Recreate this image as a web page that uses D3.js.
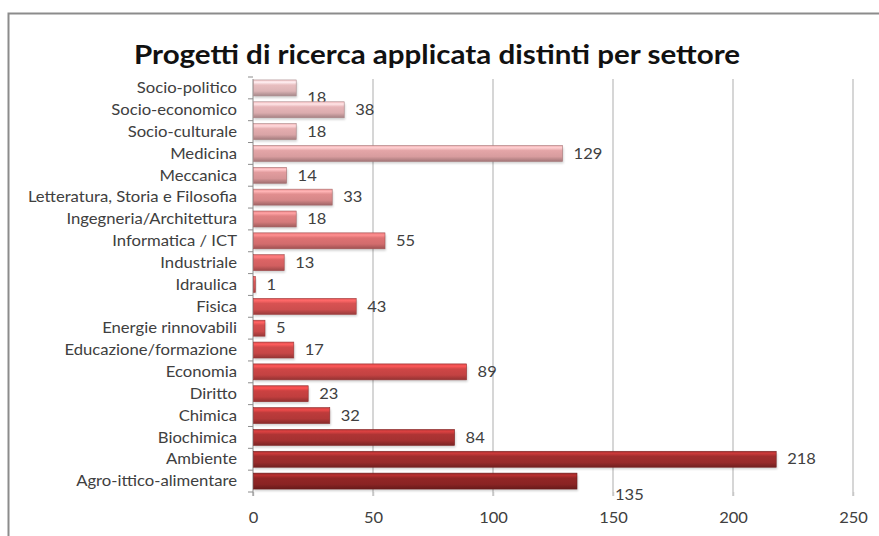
<!DOCTYPE html>
<html>
<head>
<meta charset="utf-8">
<script src="https://cdn.jsdelivr.net/npm/d3@7"></script>
<style>
  body { margin: 0; background: #fff; }
  svg { display: block; font-family: Lato, "Open Sans", sans-serif; }
  .cat-label, .val-label, .x-label { fill: #404040; font-size: 15px; }
</style>
</head>
<body>
<svg id="chart" width="879" height="536"></svg>
<script>
// Chart data, top to bottom as drawn
var categories = ["Socio-politico", "Socio-economico", "Socio-culturale", "Medicina",
  "Meccanica", "Letteratura, Storia e Filosofia", "Ingegneria/Architettura",
  "Informatica / ICT", "Industriale", "Idraulica", "Fisica", "Energie rinnovabili",
  "Educazione/formazione", "Economia", "Diritto", "Chimica", "Biochimica",
  "Ambiente", "Agro-ittico-alimentare"];
var values = [18, 38, 18, 129, 14, 33, 18, 55, 13, 1, 43, 5, 17, 89, 23, 32, 84, 218, 135];
var xTicks = [0, 50, 100, 150, 200, 250];
var title = "Progetti di ricerca applicata distinti per settore";

// The original text looks horizontally stretched, so widen glyphs a bit
function stretch(sel, k) {
  sel.each(function() {
    var len = this.getComputedTextLength();
    d3.select(this)
      .attr("textLength", len * k)
      .attr("lengthAdjust", "spacingAndGlyphs");
  });
}

function drawChart() {
  var svg = d3.select("#chart");
  var plotLeft = 253, plotRight = 853, plotTop = 77, plotBottom = 492;

  // Outer chart frame (runs off the page on the right and bottom)
  svg.append("rect")
    .attr("x", 8.5)
    .attr("y", 13.5)
    .attr("width", 900)
    .attr("height", 600)
    .attr("fill", "none")
    .attr("stroke", "#8c8c8c")
    .attr("stroke-width", 2);

  svg.append("text")
    .attr("x", 437)
    .attr("y", 64)
    .attr("text-anchor", "middle")
    .attr("font-size", 26)
    .attr("font-weight", "bold")
    .attr("fill", "#111")
    .attr("textLength", 606)
    .attr("lengthAdjust", "spacingAndGlyphs")
    .text(title);

  var x = d3.scaleLinear().domain([0, 250]).range([plotLeft, plotRight]);
  var y = d3.scaleBand().domain(categories).range([plotTop, plotBottom])
    .paddingInner(0.27).paddingOuter(0.135);

  // Colour runs from pale pink at the top to dark red at the bottom
  var color = d3.scaleLinear()
    .domain([0, 4, 9, 14, 18])
    .range(["#dcb4b6", "#d69496", "#d05252", "#c03e3e", "#8a2424"])
    .interpolate(d3.interpolateRgb);

  // Vertical gridlines
  svg.append("g").selectAll("line")
    .data(xTicks.slice(1))
    .enter().append("line")
    .attr("x1", function(d) { return x(d); })
    .attr("x2", function(d) { return x(d); })
    .attr("y1", plotTop + 2)
    .attr("y2", plotBottom + 4)
    .attr("stroke", "#c8c8c8")
    .attr("stroke-width", 1.5);

  // X axis: ticks below plot, no domain line
  var xAxis = svg.append("g")
    .attr("transform", "translate(0," + plotBottom + ")")
    .call(d3.axisBottom(x).tickValues(xTicks).tickSize(4).tickPadding(16));
  xAxis.select(".domain").remove();
  xAxis.selectAll(".tick line").attr("stroke", "#c8c8c8").attr("stroke-width", 1.5);
  xAxis.attr("font-family", null).attr("font-size", null);
  xAxis.selectAll(".tick text").attr("class", "x-label").attr("fill", null)
    .call(stretch, 1.1);

  // Y axis: vertical line with ticks at the category boundaries
  var bounds = categories.map(function(c) { return y(c) - y.step() * y.paddingInner() / 2; });
  bounds.push(plotBottom);
  svg.append("line")
    .attr("x1", plotLeft).attr("x2", plotLeft)
    .attr("y1", plotTop + 2).attr("y2", plotBottom + 4)
    .attr("stroke", "#8c8c8c");
  svg.append("g").selectAll("line")
    .data(bounds)
    .enter().append("line")
    .attr("x1", plotLeft - 5).attr("x2", plotLeft)
    .attr("y1", function(d) { return d; })
    .attr("y2", function(d) { return d; })
    .attr("stroke", "#8c8c8c");

  svg.append("g").selectAll("text")
    .data(categories)
    .enter().append("text")
    .attr("class", "cat-label")
    .attr("x", 237)
    .attr("y", function(d) { return y(d) + y.bandwidth() / 2; })
    .attr("dy", "0.35em")
    .attr("text-anchor", "end")
    .text(function(d) { return d; })
    .call(stretch, 1.11);

  // One gradient per bar to fake the bevelled look
  var defs = svg.append("defs");
  defs.append("filter").attr("id", "shadow")
    .append("feGaussianBlur").attr("stdDeviation", 1.2);

  categories.forEach(function(c, i) {
    var base = d3.color(color(i));
    var g = defs.append("linearGradient")
      .attr("id", "bar" + i)
      .attr("x1", 0).attr("y1", 0).attr("x2", 0).attr("y2", 1);
    g.append("stop").attr("offset", "0%").attr("stop-color", base.brighter(0.3));
    g.append("stop").attr("offset", "14%").attr("stop-color", base.brighter(0.8));
    g.append("stop").attr("offset", "32%").attr("stop-color", base.brighter(0.15));
    g.append("stop").attr("offset", "70%").attr("stop-color", base);
    g.append("stop").attr("offset", "100%").attr("stop-color", base.darker(0.8));
  });

  var bars = svg.append("g").selectAll("g")
    .data(values)
    .enter().append("g");

  bars.append("rect")
    .attr("x", x(0) + 1)
    .attr("y", function(d, i) { return y(categories[i]) + 2; })
    .attr("width", function(d) { return x(d) - x(0); })
    .attr("height", y.bandwidth())
    .attr("fill", "#000")
    .attr("opacity", 0.18)
    .attr("filter", "url(#shadow)");

  bars.append("rect")
    .attr("x", x(0) + 0.5)
    .attr("y", function(d, i) { return y(categories[i]); })
    .attr("width", function(d) { return Math.max(x(d) - x(0) - 0.5, 1); })
    .attr("height", y.bandwidth())
    .attr("fill", function(d, i) { return "url(#bar" + i + ")"; })
    .attr("stroke", function(d, i) { return d3.color(color(i)).darker(0.7); })
    .attr("stroke-width", 0.6);

  // A couple of labels were moved by hand in the original
  var labelNudge = { "Socio-politico": [0, 10], "Agro-ittico-alimentare": [27, 14] };

  bars.append("text")
    .attr("class", "val-label")
    .attr("x", function(d, i) {
      var n = labelNudge[categories[i]];
      return x(d) + 11 + (n ? n[0] : 0);
    })
    .attr("y", function(d, i) {
      var n = labelNudge[categories[i]];
      return y(categories[i]) + y.bandwidth() / 2 + (n ? n[1] : 0);
    })
    .attr("dy", "0.35em")
    .text(function(d) { return d; })
    .call(stretch, 1.1);
}
drawChart();
</script>
</body>
</html>
